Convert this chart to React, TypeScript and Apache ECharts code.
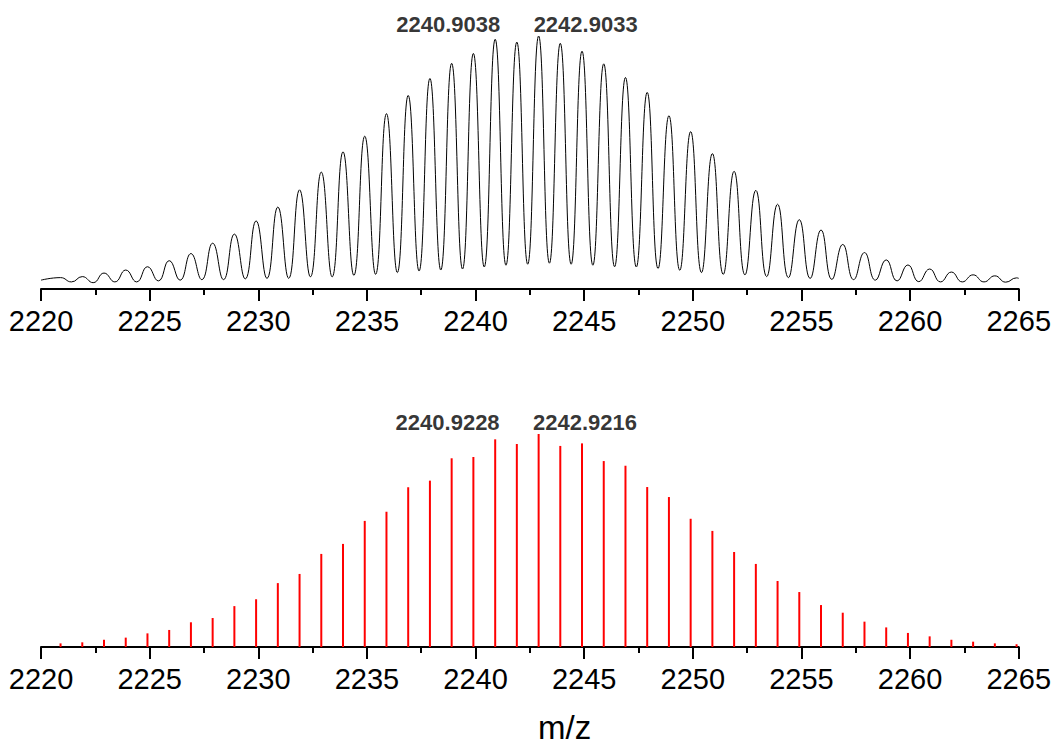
import React, { useEffect, useRef } from "react";
import * as echarts from "echarts";

// m/z of the isotope peaks (centroids)
const peakMz = [
  2220.9, 2221.9, 2222.9, 2223.9, 2224.9, 2225.9, 2226.9, 2227.9, 2228.9, 2229.9,
  2230.9, 2231.9, 2232.9, 2233.9, 2234.9, 2235.9, 2236.9, 2237.9, 2238.9, 2239.9,
  2240.9038, 2241.9, 2242.9033, 2243.9, 2244.9, 2245.9, 2246.9, 2247.9, 2248.9, 2249.9,
  2250.9, 2251.9, 2252.9, 2253.9, 2254.9, 2255.9, 2256.9, 2257.9, 2258.9, 2259.9,
  2260.9, 2261.9, 2262.9, 2263.9, 2264.9,
];

// experimental profile: apex intensities (relative %)
const profileApex = [
  4.5, 4.9, 6.3, 7.5, 8.8, 11.2, 14.0, 18.1, 21.7, 26.9,
  32.4, 39.2, 46.2, 54.2, 60.4, 69.3, 76.5, 83.2, 89.2, 93.1,
  98.7, 97.6, 100, 97.1, 94.0, 89.0, 83.6, 77.7, 68.5, 62.2,
  53.5, 46.5, 39.0, 33.5, 27.4, 23.3, 17.6, 14.4, 11.5, 9.5,
  7.9, 6.7, 5.6, 5.2, 4.4,
];

// experimental profile: valley (between-peak) positions and intensities
const valleyMz = [
  2220.0, 2221.4, 2222.4, 2223.4, 2224.4, 2225.4, 2226.4, 2227.4, 2228.4, 2229.4,
  2230.4, 2231.4, 2232.4, 2233.4, 2234.4, 2235.4, 2236.4, 2237.4, 2238.4, 2239.4,
  2240.4, 2241.4, 2242.4, 2243.4, 2244.4, 2245.4, 2246.4, 2247.4, 2248.4, 2249.4,
  2250.4, 2251.4, 2252.4, 2253.4, 2254.4, 2255.4, 2256.4, 2257.4, 2258.4, 2259.4,
  2260.4, 2261.4, 2262.4, 2263.4, 2264.4, 2265.0,
];
const valleyIntensity = [
  3.5, 2.8, 2.5, 2.8, 2.8, 3.2, 3.5, 3.7, 3.7, 4.0,
  4.2, 4.2, 4.8, 4.8, 5.4, 5.8, 6.5, 7.1, 7.5, 7.9,
  8.7, 9.4, 9.8, 10.2, 9.8, 9.4, 8.8, 8.7, 8.1, 7.4,
  6.5, 5.8, 5.6, 4.9, 4.5, 4.2, 3.8, 3.7, 3.5, 3.2,
  2.9, 2.8, 2.8, 2.8, 2.7, 4.2,
];

// simulated isotope pattern: stick intensities (relative %)
const stickIntensity = [
  1.7, 2.2, 3.4, 4.4, 6.4, 8.0, 11.6, 13.6, 19.2, 22.4,
  30.0, 34.3, 43.7, 48.4, 59.2, 63.5, 75.0, 78.1, 88.6, 89.2,
  97.5, 95.3, 100, 94.4, 95.6, 87.3, 85.1, 75.1, 70.4, 60.2,
  54.5, 44.6, 39.0, 31.0, 25.8, 19.7, 16.1, 11.9, 9.2, 6.6,
  5.0, 3.4, 2.5, 1.7, 1.3,
];

const xMin = 2220;
const xMax = 2265;
const xInterval = 5;

const topLabels = [
  { mz: 2240.9038, text: "2240.9038", dx: -47 },
  { mz: 2242.9033, text: "2242.9033", dx: 47 },
];
const bottomLabels = [
  { mz: 2240.9228, text: "2240.9228", dx: -48 },
  { mz: 2242.9216, text: "2242.9216", dx: 46 },
];

const FONT = "'Liberation Sans', Arial, Helvetica, sans-serif";

export default function App() {
  const ref = useRef<HTMLDivElement>(null);
  useEffect(() => {
    if (!ref.current) return;
    const chart = echarts.init(ref.current, undefined, { renderer: "svg" });

    const profile: [number, number][] = [];
    peakMz.forEach((m, i) => profile.push([m, profileApex[i]]));
    valleyMz.forEach((m, i) => profile.push([m, valleyIntensity[i]]));
    profile.sort((a, b) => a[0] - b[0]);

    const sticks = peakMz.map((m, i) => [m, stickIntensity[i]]);

    const xAxisBase = (gridIndex: number) => ({
      type: "value",
      gridIndex,
      min: xMin,
      max: xMax,
      interval: xInterval,
      axisLine: { show: true, lineStyle: { color: "#000", width: 2 } },
      axisTick: { show: true, length: 12, lineStyle: { color: "#000", width: 2 } },
      minorTick: { show: true, splitNumber: 2, length: 6, lineStyle: { color: "#000", width: 2 } },
      splitLine: { show: false },
      minorSplitLine: { show: false },
      axisLabel: {
        fontSize: 29,
        color: "#000",
        margin: 17,
        fontFamily: FONT,
        formatter: (v: number) => String(v),
      },
    });

    const labelSeries = (axisIdx: number, items: typeof topLabels) => ({
      type: "scatter",
      xAxisIndex: axisIdx,
      yAxisIndex: axisIdx,
      symbolSize: 0,
      silent: true,
      data: items.map((it) => ({
        value: [it.mz, 100],
        label: {
          show: true,
          position: "top",
          distance: 1,
          offset: [it.dx, 0],
          formatter: it.text,
          fontSize: 22,
          fontWeight: "bold",
          color: "#000",
          fontFamily: FONT,
        },
      })),
    });

    chart.setOption({
      animation: false,
      backgroundColor: "#fff",
      grid: [
        { left: 41, width: 978, top: 36, height: 253 },
        { left: 41, width: 978, top: 434, height: 213 },
      ],
      xAxis: [xAxisBase(0), xAxisBase(1)],
      yAxis: [
        { type: "value", gridIndex: 0, min: 0, max: 100, show: false },
        { type: "value", gridIndex: 1, min: 0, max: 100, show: false },
      ],
      series: [
        {
          type: "line",
          xAxisIndex: 0,
          yAxisIndex: 0,
          data: profile,
          showSymbol: false,
          smooth: 0.5,
          lineStyle: { color: "#000", width: 1 },
        },
        {
          type: "bar",
          xAxisIndex: 1,
          yAxisIndex: 1,
          data: sticks,
          barWidth: 2,
          itemStyle: { color: "#ff0000" },
        },
        labelSeries(0, topLabels),
        labelSeries(1, bottomLabels),
      ],
      graphic: [
        {
          type: "text",
          left: 538,
          top: 711,
          style: { text: "m/z", fontSize: 33, fill: "#000", fontFamily: FONT },
        },
      ],
    });
    return () => chart.dispose();
  }, []);
  return (
    <div
      ref={ref}
      style={{ position: "absolute", left: 0, top: 0, width: 1054, height: 749 }}
    />
  );
}
